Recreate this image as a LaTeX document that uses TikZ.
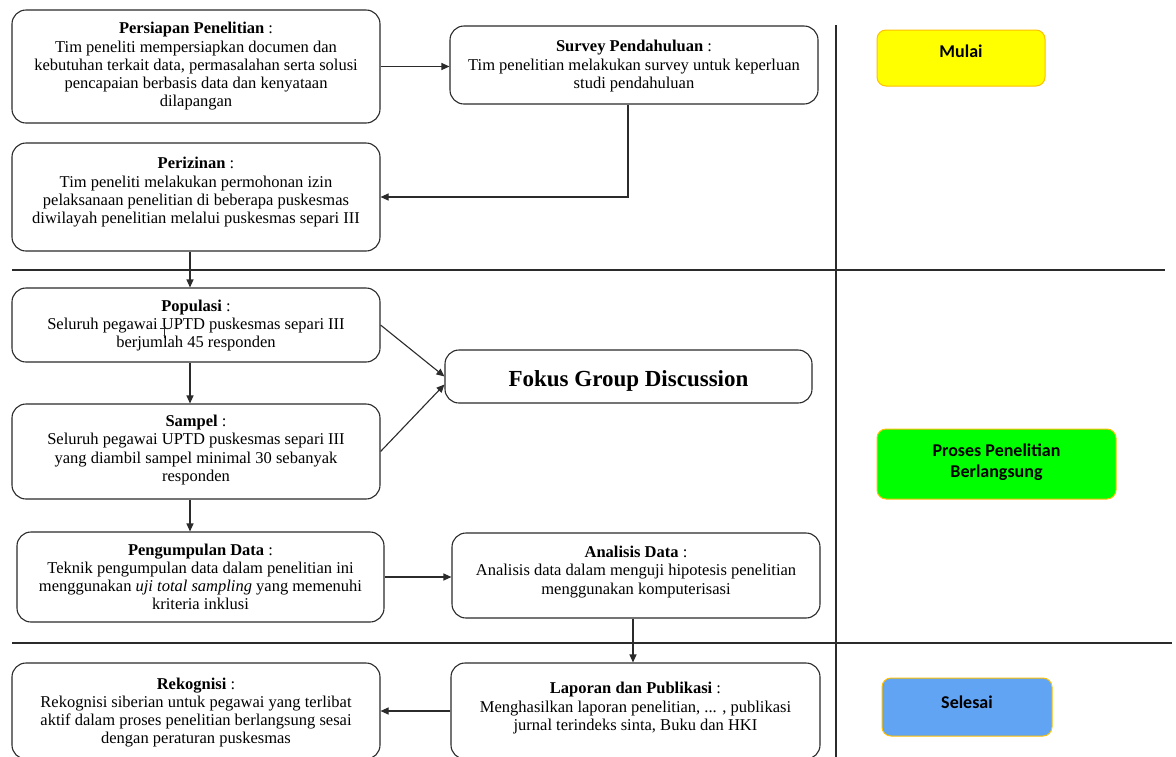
\documentclass[tikz,border=0pt]{standalone}
\usepackage{fontspec}
\setmainfont{Liberation Serif}
\newfontfamily\carlfont{Carlito}
\usetikzlibrary{arrows.meta}
\definecolor{linegray}{HTML}{2B2B2B}
\definecolor{mulaiyellow}{HTML}{FFFF00}
\definecolor{prosesgreen}{HTML}{00FF00}
\definecolor{selesaiblue}{HTML}{62A4F4}
\definecolor{goldborder}{HTML}{FFC000}
\tikzset{
  box/.style={draw=linegray, line width=1.1pt, rounded corners=14pt, align=center,
    inner sep=0pt, text depth=4pt, font=\fontsize{16.5}{18.2}\selectfont},
  phase/.style={draw=goldborder, line width=1pt, rounded corners=9pt, align=center,
    inner sep=0pt, font=\carlfont\bfseries\fontsize{18}{21}\selectfont},
  arr/.style={draw=linegray, line width=1.1pt, -{Triangle[length=8pt,width=7pt]}},
  sep/.style={draw=linegray, line width=1.4pt}
}
\begin{document}
\begin{tikzpicture}[x=1pt,y=-1pt]
\useasboundingbox (0,0) rectangle (1176,756);
\clip (0,0) rectangle (1176,756);
\fill[white] (0,0) rectangle (1176,756);

% separators
\draw[sep] (12,270) -- (1165,270);
\draw[sep] (12,643) -- (1172,643);
\draw[sep] (836,25) -- (836,760);

% boxes
\node[box, minimum width=368pt, minimum height=113pt, text height=84.5pt] (persiapan) at (196,66.5)
  {\textbf{Persiapan Penelitian} :\\Tim peneliti mempersiapkan documen dan\\kebutuhan terkait data, permasalahan serta solusi\\pencapaian berbasis data dan kenyataan\\dilapangan};
\node[box, minimum width=368pt, minimum height=78pt, text height=50.5pt] (survey) at (634,65)
  {\textbf{Survey Pendahuluan} :\\Tim penelitian melakukan survey untuk keperluan\\studi pendahuluan};
\node[box, minimum width=368pt, minimum height=108pt, text height=57pt] (perizinan) at (196,197)
  {\textbf{Perizinan} :\\Tim peneliti melakukan permohonan izin\\pelaksanaan penelitian di beberapa puskesmas\\diwilayah penelitian melalui puskesmas separi III};
\node[box, minimum width=368pt, minimum height=74pt, text height=49pt] (populasi) at (196,325)
  {\textbf{Populasi} :\\Seluruh pegawai UPTD puskesmas separi III\\berjumlah 45 responden};
\node[box, minimum width=368pt, minimum height=95pt, text height=63.5pt] (sampel) at (196,451.5)
  {\textbf{Sampel} :\\Seluruh pegawai UPTD puskesmas separi III\\yang diambil sampel minimal 30 sebanyak\\responden};
\node[box, minimum width=367pt, minimum height=53pt, text height=21pt, text depth=2pt, font=\bfseries\fontsize{23}{26}\selectfont] (fokus) at (628.5,376.5)
  {Fokus Group Discussion};
\node[box, minimum width=367pt, minimum height=90pt, text height=69.6pt] (pengumpulan) at (200.5,577)
  {\textbf{Pengumpulan Data} :\\Teknik pengumpulan data dalam penelitian ini\\menggunakan \textit{uji total sampling} yang memenuhi\\kriteria inklusi};
\node[box, minimum width=368pt, minimum height=85pt, text height=41pt] (analisis) at (636,575.5)
  {\textbf{Analisis Data} :\\Analisis data dalam menguji hipotesis penelitian\\menggunakan komputerisasi};
\node[box, minimum width=368pt, minimum height=96pt, text height=69.5pt] (rekognisi) at (196,711)
  {\textbf{Rekognisi} :\\Rekognisi siberian untuk pegawai yang terlibat\\aktif dalam proses penelitian berlangsung sesai\\dengan peraturan puskesmas};
\node[box, minimum width=369pt, minimum height=96pt, text height=42.5pt] (laporan) at (635.5,711)
  {\textbf{Laporan dan Publikasi} :\\Menghasilkan laporan penelitian, ... , publikasi\\jurnal terindeks sinta, Buku dan HKI};

% phase boxes
\node[phase, fill=mulaiyellow, minimum width=168pt, minimum height=56pt, text height=15pt, text depth=16.5pt] (mulai) at (961,58) {Mulai};
\node[phase, fill=prosesgreen, minimum width=239pt, minimum height=70pt, text height=32pt, text depth=5pt] (proses) at (996.5,464) {Proses Penelitian\\Berlangsung};
\node[phase, fill=selesaiblue, minimum width=170pt, minimum height=58pt, text height=14.5pt, text depth=11pt] (selesai) at (967,707) {Selesai};

% connectors
\draw[arr] (persiapan.east) -- (persiapan.east -| survey.west);
\draw[arr] ([xshift=-6pt]survey.south) |- (perizinan.east);
\draw[arr] ([xshift=-6pt]perizinan.south) -- ([xshift=-6pt]populasi.north);
\draw[arr] ([xshift=-6pt]populasi.south) -- ([xshift=-6pt]sampel.north);
\draw[arr] (populasi.east) -- (fokus.west);
\draw[arr] (sampel.east) -- ([yshift=-8pt]fokus.west);
\draw[arr] ([xshift=-6pt]sampel.south) -- ([xshift=-6pt]sampel.south |- pengumpulan.north);
\draw[arr] (pengumpulan.east) -- (pengumpulan.east -| analisis.west);
\draw[arr] ([xshift=-3pt]analisis.south) -- ([xshift=-3pt]analisis.south |- laporan.north);
\draw[arr] (laporan.west) -- (laporan.west -| rekognisi.east);

% small stray mark in Populasi box
\draw[linegray, line width=0.8pt] (160,328) -- (168,328) (164,328) -- (164,338);
\end{tikzpicture}
\end{document}
